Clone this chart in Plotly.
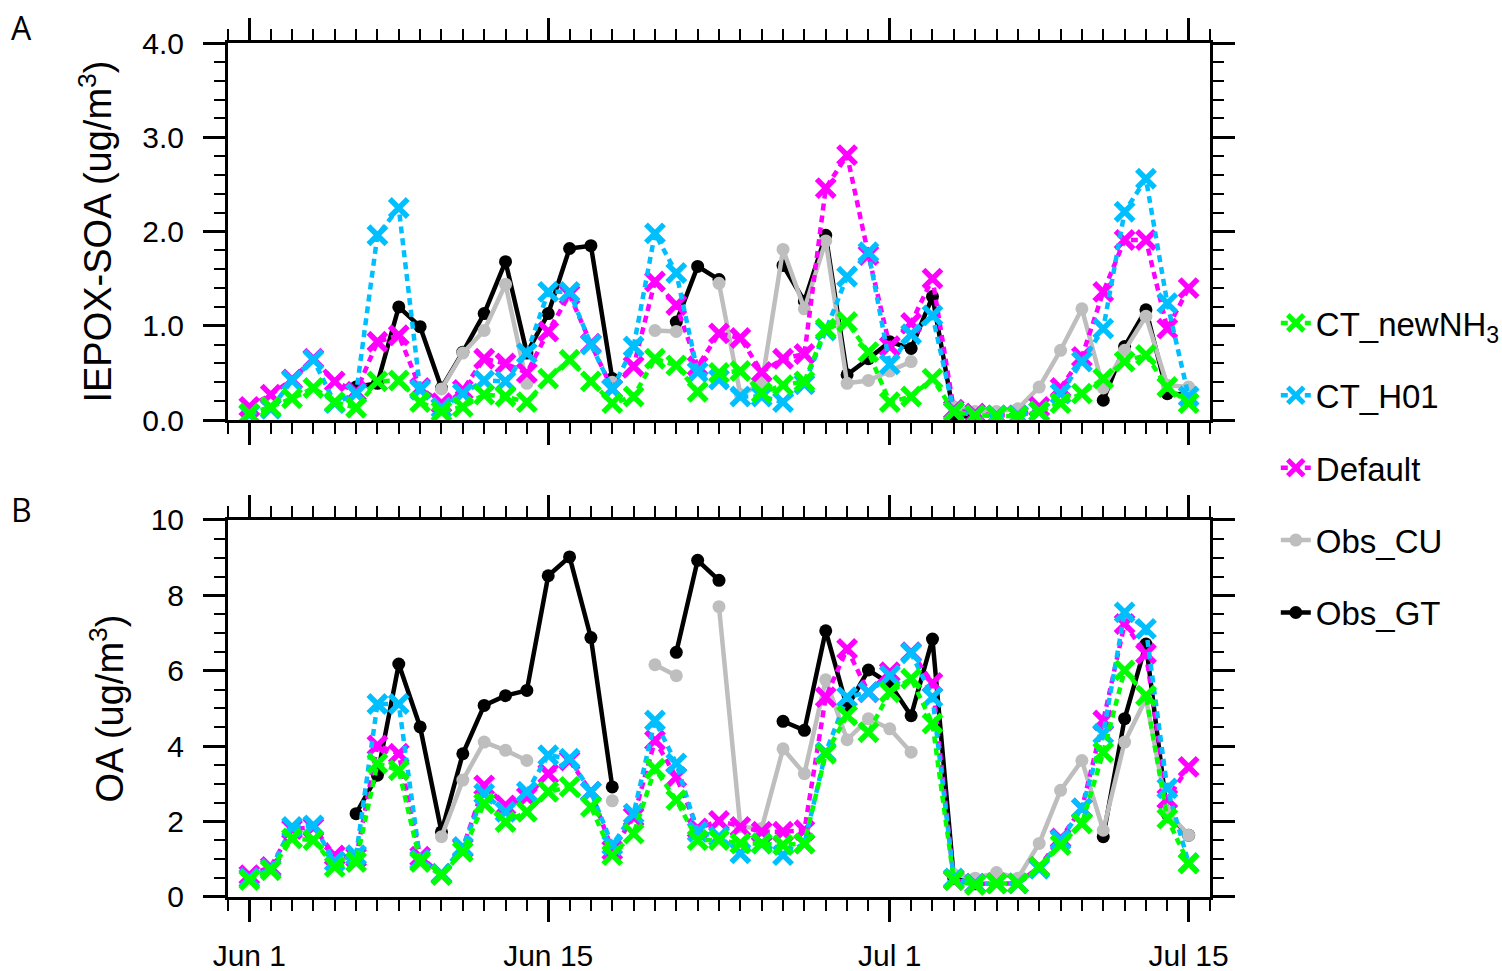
import pandas as pd
import plotly.graph_objects as go
from plotly.subplots import make_subplots

dates = pd.date_range("2013-06-01", "2013-07-15", freq="D")

# panel A: IEPOX-SOA (ug/m3)
soa_newnh3 = [0.07, 0.14, 0.23, 0.34, 0.19, 0.13, 0.41, 0.42, 0.19, 0.09,
              0.14, 0.27, 0.25, 0.19, 0.44, 0.64, 0.41, 0.18, 0.25, 0.65,
              0.58, 0.30, 0.50, 0.52, 0.29, 0.37, 0.41, 0.97, 1.04, 0.72,
              0.19, 0.25, 0.44, 0.09, 0.05, 0.04, 0.04, 0.09, 0.18, 0.28,
              0.44, 0.62, 0.69, 0.35, 0.18]
soa_h01 = [0.06, 0.12, 0.42, 0.64, 0.18, 0.28, 1.96, 2.25, 0.32, 0.13,
           0.28, 0.42, 0.41, 0.71, 1.36, 1.36, 0.80, 0.33, 0.78, 1.98,
           1.56, 0.51, 0.43, 0.25, 0.25, 0.19, 0.38, 0.95, 1.52, 1.78,
           0.59, 0.91, 1.11, 0.09, 0.05, 0.05, 0.05, 0.09, 0.28, 0.62,
           0.97, 2.21, 2.56, 1.24, 0.25]
soa_default = [0.14, 0.27, 0.43, 0.65, 0.41, 0.30, 0.83, 0.90, 0.34, 0.18,
               0.32, 0.65, 0.60, 0.50, 0.94, 1.33, 0.81, 0.33, 0.57, 1.47,
               1.22, 0.57, 0.92, 0.87, 0.51, 0.65, 0.70, 2.46, 2.81, 1.75,
               0.78, 1.03, 1.50, 0.11, 0.07, 0.05, 0.05, 0.14, 0.34, 0.67,
               1.36, 1.91, 1.91, 0.97, 1.40]
soa_obs_cu = [None, None, None, None, None, None, None, None, None, 0.33,
              0.71, 0.95, 1.44, 0.39, None, None, None, 0.40, None, 0.95,
              0.94, None, 1.45, 0.27, 0.38, 1.81, 1.18, 1.90, 0.39, 0.42,
              0.52, 0.62, None, 0.14, 0.09, 0.09, 0.12, 0.35, 0.74, 1.18,
              0.34, 0.74, 1.10, 0.37, 0.35]
soa_obs_gt = [None, None, None, None, None, 0.35, 0.39, 1.20, 0.99, 0.34,
              0.72, 1.13, 1.68, 0.71, 1.13, 1.82, 1.85, 0.44, None, None,
              1.04, 1.63, 1.49, None, None, 1.64, 1.26, 1.96, 0.48, 0.65,
              0.83, 0.76, 1.31, 0.05, 0.03, None, None, None, None, None,
              0.21, 0.78, 1.17, 0.28, 0.27]

# panel B: OA (ug/m3)
oa_newnh3 = [0.45, 0.71, 1.55, 1.51, 0.80, 0.93, 3.54, 3.36, 0.93, 0.58,
             1.20, 2.48, 1.99, 2.26, 2.79, 2.92, 2.39, 1.11, 1.68, 3.40,
             2.57, 1.51, 1.51, 1.42, 1.42, 1.38, 1.42, 3.80, 4.81, 4.37,
             5.43, 5.79, 4.60, 0.45, 0.32, 0.36, 0.36, 0.80, 1.38, 1.95,
             3.84, 6.01, 5.34, 2.08, 0.89]
oa_h01 = [0.50, 0.75, 1.86, 1.90, 0.95, 1.11, 5.12, 5.12, 0.98, 0.62,
          1.33, 2.74, 2.26, 2.79, 3.76, 3.67, 2.79, 1.38, 2.21, 4.68,
          3.54, 1.73, 1.60, 1.16, 1.42, 1.11, 1.42, 3.84, 5.30, 5.43,
          5.87, 6.47, 5.30, 0.49, 0.35, 0.36, 0.36, 0.75, 1.51, 2.35,
          4.33, 7.55, 7.11, 2.88, 0.90]
oa_default = [0.58, 0.80, 1.80, 1.85, 1.10, 1.05, 4.02, 3.80, 1.07, 0.60,
              1.30, 2.96, 2.43, 2.65, 3.27, 3.62, 2.79, 1.24, 2.12, 4.15,
              3.18, 1.82, 2.02, 1.86, 1.73, 1.73, 1.77, 5.30, 6.58, 5.43,
              5.96, 6.49, 5.68, 0.45, 0.35, 0.36, 0.36, 0.80, 1.55, 2.35,
              4.68, 7.24, 6.45, 2.60, 3.45]
oa_obs_cu = [None, None, None, None, None, None, None, None, None, 1.60,
             3.10, 4.11, 3.89, 3.62, None, None, None, 2.55, None, 6.16,
             5.87, None, 7.70, 1.86, 1.82, 3.93, 3.27, 5.76, 4.17, 4.73,
             4.46, 3.84, None, 0.60, 0.50, 0.65, 0.50, 1.42, 2.83, 3.62,
             1.77, 4.11, 5.26, 2.26, 1.64]
oa_obs_gt = [None, None, None, None, None, 2.21, 3.23, 6.18, 4.51, 1.73,
             3.80, 5.08, 5.34, 5.48, 8.52, 9.02, 6.88, 2.92, None, None,
             6.49, 8.93, 8.40, None, None, 4.66, 4.42, 7.06, 5.03, 6.02,
             5.65, 4.81, 6.84, 0.50, 0.35, None, None, None, None, None,
             1.60, 4.73, 6.71, 2.20, 1.64]

x_tickvals = ["2013-06-01", "2013-06-15", "2013-07-01", "2013-07-15"]
x_ticktext = ["Jun 1", "Jun 15", "Jul 1", "Jul 15"]

# drawn bottom to top; legend rank puts CT_newNH3 first
series = [
    ("Obs_GT", soa_obs_gt, oa_obs_gt, "black", "obs", 5),
    ("Obs_CU", soa_obs_cu, oa_obs_cu, "#BEBEBE", "obs", 4),
    ("Default", soa_default, oa_default, "#FF00FF", "model", 3),
    ("CT_H01", soa_h01, oa_h01, "#00BFFF", "model", 2),
    ("CT_newNH<sub>3</sub>", soa_newnh3, oa_newnh3, "#00FF00", "model", 1),
]

fig = make_subplots(rows=2, cols=1, vertical_spacing=0.117)

for name, ya, yb, color, kind, rank in series:
    if kind == "obs":
        line = dict(color=color, width=4.5)
        marker = dict(symbol="circle", size=13, color=color)
    else:
        line = dict(color=color, width=4.5, dash="7px,5px")
        marker = dict(symbol="x-thin", size=18, color=color,
                      line=dict(color=color, width=5.5))
    for row, y in ((1, ya), (2, yb)):
        fig.add_trace(go.Scatter(x=dates, y=y, name=name, mode="lines+markers",
                                 line=line, marker=marker, connectgaps=False,
                                 legendgroup=name, legendrank=rank,
                                 showlegend=(row == 1)),
                      row=row, col=1)

axis_common = dict(showline=True, linewidth=3, linecolor="black", mirror="ticks",
                   ticks="outside", ticklen=22, tickwidth=2.5, tickcolor="black",
                   showgrid=False, zeroline=False, automargin=False,
                   tickfont=dict(family="Liberation Sans", size=30, color="black"))

for row in (1, 2):
    fig.update_xaxes(axis_common, type="date",
                     range=["2013-05-31", "2013-07-16"],
                     tickmode="array", tickvals=x_tickvals, ticktext=x_ticktext,
                     showticklabels=(row == 2), ticklabelstandoff=8,
                     minor=dict(ticks="outside", ticklen=11, tickwidth=1.5,
                                tickcolor="black", dtick=86400000,
                                tick0="2013-05-31"),
                     row=row, col=1)

fig.update_yaxes(axis_common, range=[0, 4], tickvals=[0, 1, 2, 3, 4],
                 tickformat=".1f", ticklabelstandoff=13,
                 minor=dict(ticks="outside", ticklen=11, tickwidth=1.5,
                            tickcolor="black", dtick=0.2),
                 title=dict(text="IEPOX-SOA (ug/m<sup>3</sup>)", standoff=19,
                            font=dict(family="Liberation Sans", size=38, color="black")),
                 row=1, col=1)
fig.update_yaxes(axis_common, range=[0, 10], tickvals=[0, 2, 4, 6, 8, 10],
                 ticklabelstandoff=13,
                 minor=dict(ticks="outside", ticklen=11, tickwidth=1.5,
                            tickcolor="black", dtick=0.5),
                 title=dict(text="OA (ug/m<sup>3</sup>)", standoff=16,
                            font=dict(family="Liberation Sans", size=38, color="black")),
                 row=2, col=1)

for label, ypos in (("A", 1.0187), ("B", 0.4532)):
    fig.add_annotation(text=label, xref="paper", yref="paper", x=-0.2098, y=ypos,
                       xanchor="center", yanchor="middle", showarrow=False,
                       font=dict(family="Open Sans", size=32, color="black"))

fig.update_layout(
    width=1502, height=971,
    margin=dict(l=228, r=292, t=43, b=74, autoexpand=False),
    paper_bgcolor="white", plot_bgcolor="white",
    font=dict(family="Liberation Sans", color="black"),
    legend=dict(x=1.067, xanchor="left", y=0.705, yanchor="top",
                traceorder="grouped", tracegroupgap=26.5,
                font=dict(family="Liberation Sans", size=33, color="black"),
                bgcolor="rgba(0,0,0,0)"),
)

# drop the default page margin so the figure sits at the window corner
fig.write_html("out.html", config={"displayModeBar": False},
               post_script="document.body.style.margin='0px';")
